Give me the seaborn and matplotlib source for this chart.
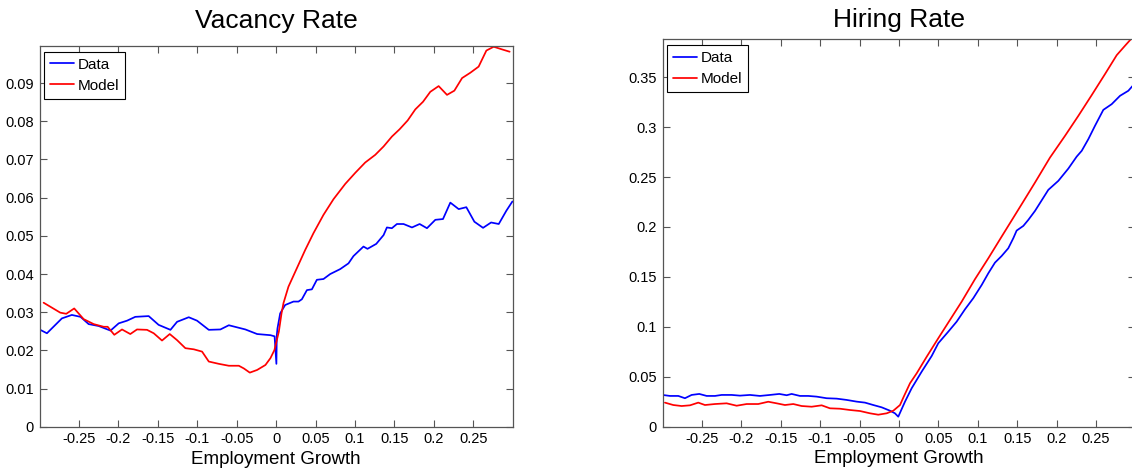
import numpy as np
import pandas as pd
import seaborn as sns
import matplotlib
matplotlib.use('Agg')
import matplotlib.pyplot as plt

# ---- Vacancy rate (left panel) ----
vac_data_x = [-0.300, -0.2906, -0.2716, -0.259, -0.248, -0.2377, -0.225, -0.210, -0.1996, -0.189,
              -0.1786, -0.1616, -0.149, -0.134, -0.1256, -0.1108, -0.1003, -0.0854, -0.0707, -0.060,
              -0.039, -0.0241, -0.0072, -0.002, 0.0003, 0.0008, 0.0017, 0.0051, 0.0114, 0.022,
              0.0283, 0.0326, 0.039, 0.0453, 0.0516, 0.060, 0.0685, 0.0812, 0.0917, 0.098,
              0.1107, 0.1158, 0.1269, 0.1362, 0.1404, 0.1467, 0.1531, 0.1615, 0.1722, 0.1819,
              0.1912, 0.2018, 0.2115, 0.2208, 0.2314, 0.2411, 0.2513, 0.2623, 0.2725, 0.2822,
              0.2919, 0.2995]
vac_data_y = [0.0255, 0.0245, 0.0284, 0.0293, 0.0288, 0.0269, 0.0264, 0.0252, 0.0271, 0.0278,
              0.0288, 0.0290, 0.0267, 0.0254, 0.0275, 0.0287, 0.0278, 0.0254, 0.0255, 0.0266,
              0.0255, 0.0243, 0.0240, 0.0237, 0.0165, 0.0240, 0.0258, 0.0297, 0.0319, 0.0328,
              0.0328, 0.0334, 0.0358, 0.0360, 0.0385, 0.0387, 0.0400, 0.0413, 0.0428, 0.0447,
              0.0472, 0.0466, 0.0479, 0.0502, 0.0522, 0.0520, 0.0531, 0.0531, 0.0522, 0.0531,
              0.0520, 0.0542, 0.0544, 0.0587, 0.0570, 0.0575, 0.0537, 0.0521, 0.0535, 0.0531,
              0.0566, 0.0590]

vac_model_x = [-0.2948, -0.2737, -0.2661, -0.256, -0.244, -0.2313, -0.2186, -0.2136, -0.2052, -0.1954,
               -0.1849, -0.1764, -0.1637, -0.1552, -0.1447, -0.1349, -0.1256, -0.1151, -0.1044, -0.0939,
               -0.0854, -0.0727, -0.060, -0.0473, -0.041, -0.0334, -0.0241, -0.0136, -0.0072, -0.0022,
               0.0034, 0.0068, 0.0093, 0.0156, 0.0262, 0.0368, 0.0473, 0.060, 0.0727, 0.0876,
               0.1003, 0.1129, 0.1256, 0.1362, 0.1468, 0.1565, 0.1667, 0.1764, 0.1862, 0.1954,
               0.206, 0.2166, 0.2259, 0.2357, 0.2462, 0.2567, 0.2665, 0.2758, 0.2864, 0.296]
vac_model_y = [0.0325, 0.0299, 0.0296, 0.0310, 0.0282, 0.0269, 0.0262, 0.0262, 0.0241, 0.0255,
               0.0243, 0.0255, 0.0254, 0.0245, 0.0226, 0.0243, 0.0227, 0.0206, 0.0203, 0.0197,
               0.0171, 0.0165, 0.0160, 0.0160, 0.0153, 0.0142, 0.0149, 0.0162, 0.0180, 0.0201,
               0.0249, 0.0297, 0.0324, 0.0367, 0.0415, 0.0463, 0.0507, 0.0555, 0.0596, 0.0636,
               0.0665, 0.0692, 0.0712, 0.0734, 0.0760, 0.0779, 0.0802, 0.0831, 0.0851, 0.0877,
               0.0892, 0.0869, 0.0880, 0.0913, 0.0927, 0.0943, 0.0985, 0.0995, 0.0988, 0.0982]

# ---- Hiring rate (right panel) ----
hir_data_x = [-0.300, -0.2906, -0.280, -0.2716, -0.2631, -0.2534, -0.244, -0.2335, -0.225, -0.2123,
              -0.2018, -0.1891, -0.1764, -0.1637, -0.1519, -0.1425, -0.1362, -0.1256, -0.1151, -0.1044,
              -0.0918, -0.0791, -0.0664, -0.0537, -0.0431, -0.0326, -0.022, -0.0114, -0.0051, -0.0009,
              0.0076, 0.0161, 0.0288, 0.0415, 0.0499, 0.0626, 0.0732, 0.0838, 0.0943, 0.105,
              0.1134, 0.1218, 0.1303, 0.1387, 0.1451, 0.1493, 0.1578, 0.1641, 0.1726, 0.1895,
              0.2022, 0.2149, 0.2255, 0.2319, 0.2403, 0.2487, 0.2593, 0.2699, 0.2805, 0.291,
              0.2995]
hir_data_y = [0.0318, 0.0308, 0.0308, 0.0285, 0.0318, 0.0328, 0.0308, 0.0308, 0.0318, 0.0318,
              0.0311, 0.0318, 0.0308, 0.0318, 0.0328, 0.0315, 0.0328, 0.0308, 0.0308, 0.0301,
              0.0285, 0.0281, 0.0268, 0.0251, 0.0241, 0.0217, 0.0194, 0.0160, 0.0134, 0.0100,
              0.0250, 0.0385, 0.0551, 0.0708, 0.0836, 0.0952, 0.1052, 0.1176, 0.1287, 0.1420,
              0.1537, 0.1643, 0.1710, 0.1787, 0.1888, 0.1964, 0.2011, 0.2071, 0.2161, 0.2372,
              0.2462, 0.2585, 0.2705, 0.2763, 0.2880, 0.3013, 0.3173, 0.3230, 0.3314, 0.3364,
              0.3440]

hir_model_x = [-0.297, -0.2864, -0.2758, -0.2652, -0.2547, -0.2462, -0.2335, -0.2187, -0.206, -0.1933,
               -0.1786, -0.1659, -0.1552, -0.1447, -0.1341, -0.1235, -0.1108, -0.0981, -0.0876, -0.0749,
               -0.0622, -0.0495, -0.0368, -0.0263, -0.0156, -0.0072, 0.0013, 0.0060, 0.014, 0.0225,
               0.0352, 0.0499, 0.0647, 0.0796, 0.0964, 0.1134, 0.1303, 0.1557, 0.1726, 0.1916,
               0.2107, 0.2276, 0.2445, 0.2614, 0.2763, 0.2868, 0.2944, 0.2995]
hir_model_y = [0.0241, 0.0217, 0.0207, 0.0214, 0.0241, 0.0217, 0.0227, 0.0234, 0.0210, 0.0227,
               0.0227, 0.0250, 0.0234, 0.0217, 0.0227, 0.0207, 0.0200, 0.0214, 0.0184, 0.0180,
               0.0167, 0.0157, 0.0134, 0.0120, 0.0134, 0.0160, 0.0217, 0.0300, 0.0435, 0.0535,
               0.0701, 0.0886, 0.1069, 0.1253, 0.1477, 0.1687, 0.1904, 0.2228, 0.2445, 0.2695,
               0.2913, 0.3113, 0.3320, 0.3531, 0.3721, 0.3815, 0.3882, 0.3910]

x_ticks = [-0.25, -0.2, -0.15, -0.1, -0.05, 0, 0.05, 0.1, 0.15, 0.2, 0.25]
x_ticklabels = ['-0.25', '-0.2', '-0.15', '-0.1', '-0.05', '0', '0.05', '0.1', '0.15', '0.2', '0.25']
vac_yticks = [0, 0.01, 0.02, 0.03, 0.04, 0.05, 0.06, 0.07, 0.08, 0.09]
vac_yticklabels = ['0', '0.01', '0.02', '0.03', '0.04', '0.05', '0.06', '0.07', '0.08', '0.09']
hir_yticks = [0, 0.05, 0.1, 0.15, 0.2, 0.25, 0.3, 0.35]
hir_yticklabels = ['0', '0.05', '0.1', '0.15', '0.2', '0.25', '0.3', '0.35']

sns.set_style('ticks')
plt.rcParams['font.family'] = ['Liberation Sans', 'DejaVu Sans']
plt.rcParams['text.color'] = 'black'
plt.rcParams['axes.labelcolor'] = 'black'

fig = plt.figure(figsize=(11.32, 4.72), dpi=100)
ax1 = fig.add_axes([0.0349, 0.0956, 0.4181, 0.807])
ax2 = fig.add_axes([0.5853, 0.096, 0.4177, 0.8208])

spine_col = '#555555'


def draw_panel(ax, dx, dy, mx, my, title, yticks, yticklabels, ymax, tpad):
    d = pd.DataFrame({'x': dx, 'y': dy})
    m = pd.DataFrame({'x': mx, 'y': my})
    sns.lineplot(data=d, x='x', y='y', ax=ax, color='#0000ff', lw=1.25,
                 estimator=None, sort=False, label='Data')
    sns.lineplot(data=m, x='x', y='y', ax=ax, color='#ff0000', lw=1.25,
                 estimator=None, sort=False, label='Model')
    ax.set_xlim(-0.3, 0.3)
    ax.set_ylim(0, ymax)
    ax.set_xticks(x_ticks)
    ax.set_xticklabels(x_ticklabels)
    ax.set_yticks(yticks)
    ax.set_yticklabels(yticklabels)
    ax.tick_params(direction='in', length=5, width=0.8, color=spine_col,
                   labelsize=10.5, top=True, right=True, pad=4, labelcolor='black')
    for s in ax.spines.values():
        s.set_color(spine_col)
        s.set_linewidth(0.9)
        s.set_visible(True)
    ax.set_xlabel('Employment Growth', fontsize=13.5, labelpad=3)
    ax.set_ylabel('')
    ax.set_title(title, fontsize=19, pad=tpad, color='black')
    leg = ax.legend(loc='upper left', bbox_to_anchor=(0.009, 0.985), fontsize=11,
                    frameon=True, fancybox=False, framealpha=1, edgecolor='black',
                    handlelength=1.6, handletextpad=0.2, borderpad=0.4,
                    labelspacing=0.45, borderaxespad=0)
    leg.get_frame().set_linewidth(0.8)


draw_panel(ax1, vac_data_x, vac_data_y, vac_model_x, vac_model_y, 'Vacancy Rate',
           vac_yticks, vac_yticklabels, 0.0997, 13)
draw_panel(ax2, hir_data_x, hir_data_y, hir_model_x, hir_model_y, 'Hiring Rate',
           hir_yticks, hir_yticklabels, 0.388, 9)

fig.savefig('out.png', dpi=100)
